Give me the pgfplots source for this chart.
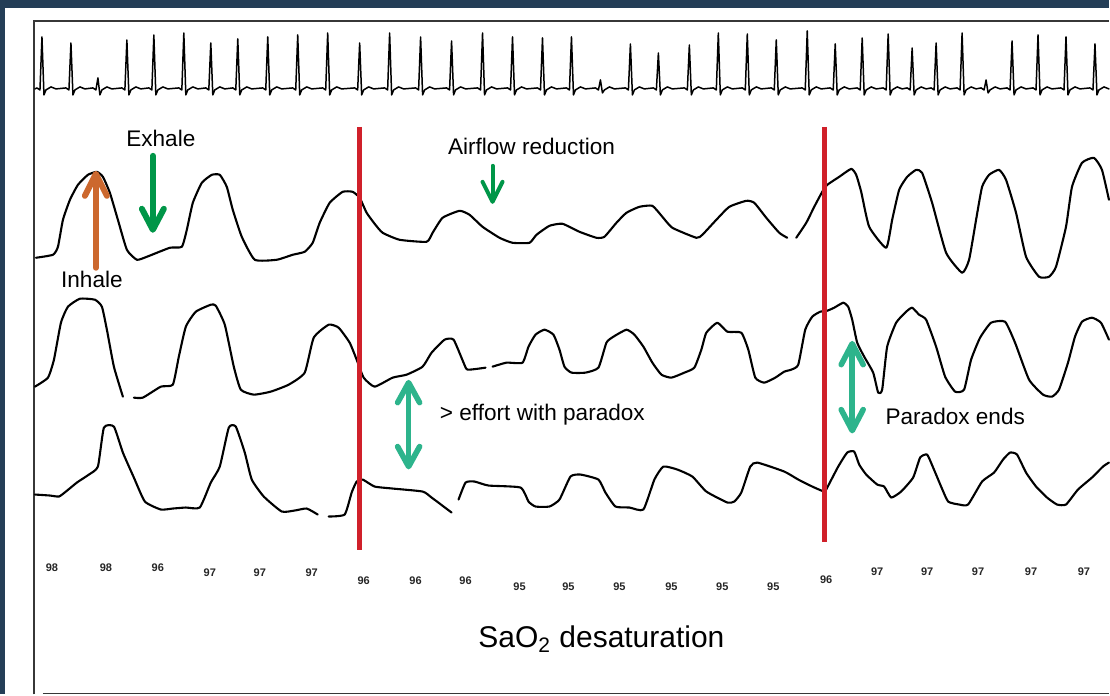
\documentclass[border=0pt]{standalone}
\usepackage{pgfplots}
\pgfplotsset{compat=1.18}
\usepackage{fontspec}
\setmainfont{Liberation Sans}
\definecolor{navy}{RGB}{36,62,87}
\definecolor{frameg}{RGB}{55,55,55}
\definecolor{redl}{RGB}{208,32,42}
\definecolor{orng}{RGB}{204,104,46}
\definecolor{grn}{RGB}{0,150,72}
\definecolor{teal2}{RGB}{45,180,140}
\begin{document}
\begin{tikzpicture}
\begin{axis}[
  scale only axis, width=555pt, height=347.5pt,
  xmin=0, xmax=1110, ymin=0, ymax=695, y dir=reverse,
  hide axis, clip=false, unbounded coords=jump,
  every axis plot/.append style={line join=round, line cap=round}
]
% background
\fill[navy] (0,0) rectangle (1110,695);
\fill[white] (5,8) rectangle (1110,695);
\draw[frameg, line width=0.8pt] (34,695) -- (34,21) -- (1110,21);
\draw[frameg, line width=0.8pt] (43,694) -- (1110,694);

% ECG
\addplot[black, line width=0.75pt] coordinates {
(35,89)
(37,88)(40,90)(42,37)(44,95)(46,90)(51,87)(56,89)
(66,88)(69,90)(71,43)(73,95)(75,90)(80,87)(85,89)
(93,88)(96,90)(98,78)(100,95)(102,90)(107,87)(112,89)
(122,88)(125,90)(127,40)(129,95)(131,90)(136,87)(141,89)
(149,88)(152,90)(154,35)(156,95)(158,90)(163,87)(168,89)
(179,88)(182,90)(184,33)(186,95)(188,90)(193,87)(198,89)
(206,88)(209,90)(211,43)(213,95)(215,90)(220,87)(225,89)
(233,88)(236,90)(238,39)(240,95)(242,90)(247,87)(252,89)
(263,88)(266,90)(268,37)(270,95)(272,90)(277,87)(282,89)
(293,88)(296,90)(298,35)(300,95)(302,90)(307,87)(312,89)
(323,88)(326,90)(328,33)(330,95)(332,90)(337,87)(342,89)
(355,88)(358,90)(360,43)(362,95)(364,90)(369,87)(374,89)
(385,88)(388,90)(390,33)(392,95)(394,90)(399,87)(404,89)
(416,88)(419,90)(421,37)(423,95)(425,90)(430,87)(435,89)
(447,88)(450,90)(452,41)(454,95)(456,90)(461,87)(466,89)
(478,88)(481,90)(483,33)(485,95)(487,90)(492,87)(497,89)
(508,88)(511,90)(513,37)(515,95)(517,90)(522,87)(527,89)
(538,88)(541,90)(543,38)(545,95)(547,90)(552,87)(557,89)
(567,88)(570,90)(572,37)(574,95)(576,90)(581,87)(586,89)
(596,88)(599,90)(601,80)(603,93)(605,90)(610,87)(615,89)
(626,88)(629,90)(631,44)(633,95)(635,90)(640,87)(645,89)
(654,88)(657,90)(659,53)(661,95)(663,90)(668,87)(673,89)
(685,88)(688,90)(690,45)(692,95)(694,90)(699,87)(704,89)
(714,88)(717,90)(719,33)(721,95)(723,90)(728,87)(733,89)
(743,88)(746,90)(748,34)(750,95)(752,90)(757,87)(762,89)
(772,88)(775,90)(777,40)(779,95)(781,90)(786,87)(791,89)
(803,88)(806,90)(808,31)(810,95)(812,90)(817,87)(822,89)
(831,88)(834,90)(836,44)(838,95)(840,90)(845,87)(850,89)
(858,88)(861,90)(863,38)(865,95)(867,90)(872,87)(877,89)
(884,88)(887,90)(889,34)(891,95)(893,90)(898,87)(903,89)
(908,88)(911,90)(913,48)(915,95)(917,90)(922,87)(927,89)
(932,88)(935,90)(937,43)(939,95)(941,90)(946,87)(951,89)
(958,88)(961,90)(963,33)(965,95)(967,90)(972,87)(977,89)
(982,88)(985,90)(987,80)(989,93)(991,90)(996,87)(1001,89)
(1008,88)(1011,90)(1013,41)(1015,95)(1017,90)(1022,87)(1027,89)
(1034,88)(1037,90)(1039,35)(1041,95)(1043,90)(1048,87)(1053,89)
(1062,88)(1065,90)(1067,37)(1069,95)(1071,90)(1076,87)(1081,89)
(1091,88)(1094,90)(1096,44)(1098,95)(1100,90)(1105,87)(1110,89)
};

% Trace 1: airflow
\addplot[black, line width=1.05pt, smooth, tension=0.3] coordinates {
(36,258)(53,255)(58,247)(63,220)(70,200)(78,185)(88,175)(97,172)(103,177)(110,193)(118,220)(127,250)(137,260)(147,257)(170,248)(182,247)(187,230)(193,203)(202,183)(212,175)(220,175)(227,187)(233,210)(242,237)(255,260)(277,260)(293,255)(305,252)(313,243)(320,223)(330,203)(343,192)(353,192)(360,198)(367,213)(375,224)(383,233)(400,240)(427,242)(433,233)(443,218)(460,211)(470,215)(483,227)(500,238)(513,243)(530,243)(537,235)(550,226)(563,224)(580,232)(597,238)(605,237)(617,223)(627,213)(640,207)(653,206)(663,217)(673,228)(697,238)(703,235)(717,220)(730,207)(747,201)(755,203)(767,218)(780,233)(788,238)
(792,nan)
(797,238)(807,223)(815,207)(823,192)(828,185)(840,177)(852,169)(857,175)(862,192)(870,227)(887,248)(893,220)(900,190)(908,177)(917,170)(923,173)(933,203)(947,253)(963,273)(970,260)(977,220)(983,187)(990,175)(1000,170)(1007,180)(1017,213)(1027,257)(1040,277)(1050,277)(1057,267)(1067,227)(1073,187)(1083,163)(1095,158)(1103,170)(1110,200)
};

% Trace 2: chest
\addplot[black, line width=1.05pt, smooth, tension=0.3] coordinates {
(35,387)(48,378)(54,360)(61,323)(68,307)(80,299)(95,300)(102,307)(107,330)(114,367)(123,397)
(128,nan)
(134,398)(143,398)(161,387)(173,385)(179,357)(186,327)(196,312)(211,305)(216,306)(225,325)(234,367)(241,390)(254,395)(271,392)(289,385)(305,373)(314,338)(329,325)(339,328)(350,343)(357,360)(364,378)(375,387)(393,378)(407,375)(423,367)(432,353)(445,340)(454,340)(464,363)(468,370)(486,368)
(490,nan)
(493,367)(507,363)(523,363)(529,347)(536,335)(545,330)(554,335)(560,350)(565,367)(572,373)(586,373)(599,368)(607,343)(614,337)(627,330)(635,335)(644,347)(653,363)(662,375)(672,378)(685,373)(695,368)(702,350)(707,333)(718,323)(728,332)(742,333)(749,350)(756,378)(765,383)(776,378)(785,372)(792,370)(799,365)(806,330)(813,317)(821,312)(828,311)(835,308)(844,303)(849,307)(853,320)(858,343)(865,357)(874,373)(879,393)(883,390)(888,347)(897,323)(907,312)(913,308)(920,315)(927,320)(937,347)(946,377)(956,392)(965,390)(972,360)(981,338)(992,323)(1006,322)(1016,343)(1030,380)(1044,395)(1053,397)(1060,390)(1069,363)(1076,337)(1083,322)(1093,318)(1102,323)(1110,340)
};

% Trace 3: abdomen
\addplot[black, line width=1.05pt, smooth, tension=0.3] coordinates {
(35,495)(50,496)(59,497)(66,492)(77,483)(89,475)(98,467)(104,428)(114,427)(123,453)(134,478)(145,502)(161,510)(173,509)(186,508)(200,508)(211,483)(220,467)(229,428)(236,427)(245,453)(252,480)(264,497)(282,512)(295,511)(307,509)(318,515)
(323,nan)
(329,517)(345,515)(352,493)(357,482)(363,480)(375,487)(393,489)(423,492)(432,498)(452,513)
(455,nan)
(459,500)(466,483)(475,482)(489,486)(521,488)(529,502)(536,507)(550,507)(560,500)(571,477)(581,475)(599,480)(606,493)(616,507)(630,508)(644,510)(655,480)(664,467)(678,470)(693,477)(707,492)(728,503)(735,502)(742,493)(751,467)(758,463)(785,472)(799,480)(813,487)(825,492)(828,488)(839,467)(848,453)(855,452)(860,465)(867,475)(878,485)(885,487)(892,498)(902,492)(914,478)(921,458)(928,455)(934,468)(942,487)(949,502)(960,505)(969,505)(983,482)(995,473)(1004,460)(1011,453)(1018,455)(1027,473)(1037,487)(1048,498)(1058,505)(1067,505)(1079,490)(1093,478)(1104,467)(1110,463)
};

% red event lines
\addplot[redl, line width=2.5pt, line cap=butt] coordinates {(360,127)(360,551)};
\addplot[redl, line width=2.5pt, line cap=butt] coordinates {(825,127)(825,543)};

% arrows
\draw[orng, line width=3pt, line cap=round, line join=round] (96,268) -- (96,175);
\draw[orng, line width=3pt, line cap=round, line join=round] (85,196) -- (96,174) -- (107,196);
\draw[grn, line width=3pt, line cap=round, line join=round] (153,156) -- (153,228);
\draw[grn, line width=3pt, line cap=round, line join=round] (142,209) -- (153,230) -- (164,209);
\draw[grn, line width=2pt, line cap=round, line join=round] (493,166) -- (493,200);
\draw[grn, line width=2pt, line cap=round, line join=round] (483,182) -- (493,202) -- (503,182);
\draw[teal2, line width=2.8pt, line cap=round, line join=round] (409,385) -- (409,465);
\draw[teal2, line width=2.8pt, line cap=round, line join=round] (398,403) -- (409,383) -- (420,403);
\draw[teal2, line width=2.8pt, line cap=round, line join=round] (398,447) -- (409,467) -- (420,447);
\draw[teal2, line width=2.8pt, line cap=round, line join=round] (853,346) -- (853,429);
\draw[teal2, line width=2.8pt, line cap=round, line join=round] (842,365) -- (853,344) -- (864,365);
\draw[teal2, line width=2.8pt, line cap=round, line join=round] (842,410) -- (853,431) -- (864,410);

% labels
\begin{scope}[every node/.style={font=\fontsize{11.3}{13}\selectfont, inner sep=0pt}]
\node[anchor=base] at (161,147) {Exhale};
\node[anchor=base] at (92,288) {Inhale};
\node[anchor=base] at (532,155) {Airflow reduction};
\node[anchor=base west] at (440,421) {> effort with paradox};
\node[anchor=base west] at (886,425) {Paradox ends};
\end{scope}
\node[anchor=base, inner sep=0pt, font=\fontsize{15}{18}\selectfont] at (602,648) {SaO\textsubscript{2} desaturation};

% SaO2 values
\begin{scope}[every node/.style={font=\fontsize{5.5}{6}\selectfont\bfseries, inner sep=0pt, text=black!85}]
\node at (52,568) {98}; \node at (106,568) {98}; \node at (158,568) {96};
\node at (210,573) {97}; \node at (260,573) {97}; \node at (312,573) {97};
\node at (364,581) {96}; \node at (416,581) {96}; \node at (466,581) {96};
\node at (520,587) {95}; \node at (569,587) {95}; \node at (620,587) {95};
\node at (672,587) {95}; \node at (723,587) {95}; \node at (774,587) {95};
\node at (827,580) {96}; \node at (878,572) {97}; \node at (928,572) {97};
\node at (979,572) {97}; \node at (1032,572) {97}; \node at (1085,572) {97};
\end{scope}
\end{axis}
\end{tikzpicture}
\end{document}
